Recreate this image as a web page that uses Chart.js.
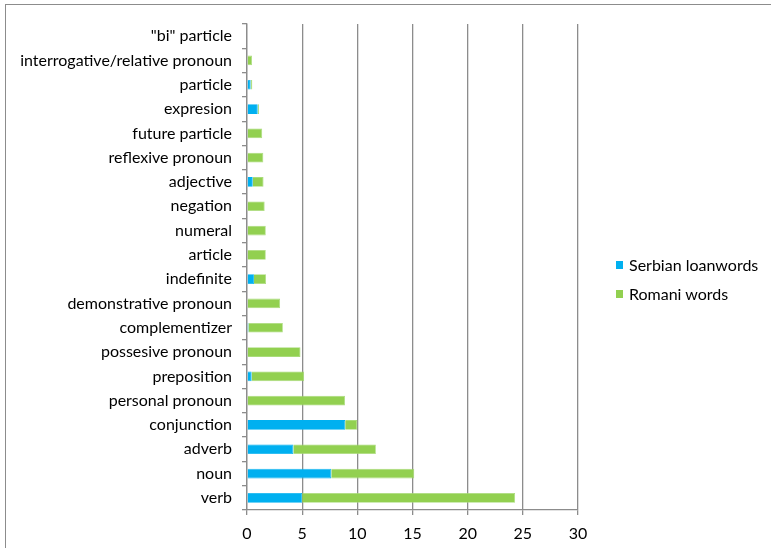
<!DOCTYPE html>
<html>
<head>
<meta charset="utf-8">
<script src="https://cdn.jsdelivr.net/npm/chart.js@4"></script>
<style>
  body { margin: 0; background: #fff; overflow: hidden; }
  #wrap { position: relative; width: 771px; height: 548px; overflow: hidden; }
  #frame { position: absolute; left: 5px; top: 4px; width: 800px; height: 600px; border-left: 1px solid #8c8c8c; border-top: 1px solid #8c8c8c; }
  #legende { position: absolute; left: 616px; top: 250px; font: 16px Lato, sans-serif; color: #000; }
  #legende div { height: 29px; display: flex; align-items: center; }
  #legende span.box { display: inline-block; width: 7px; height: 8px; margin-right: 6px; }
</style>
</head>
<body>
<div id="wrap">
  <canvas id="chart" width="771" height="548"></canvas>
  <div id="frame"></div>
  <div id="legende"></div>
</div>
<script>
const kategorien = ['"bi" particle', "interrogative/relative pronoun", "particle", "expresion", "future particle",
  "reflexive pronoun", "adjective", "negation", "numeral", "article", "indefinite", "demonstrative pronoun",
  "complementizer", "possesive pronoun", "preposition", "personal pronoun", "conjunction", "adverb", "noun", "verb"];
const serbisch = [0, 0, 0.33, 0.97, 0, 0, 0.52, 0, 0, 0, 0.63, 0, 0.13, 0, 0.42, 0, 8.9, 4.2, 7.64, 5.0];
const romani   = [0, 0.45, 0.15, 0.13, 1.38, 1.48, 0.98, 1.6, 1.7, 1.7, 1.09, 3.0, 3.12, 4.85, 4.76, 8.88, 1.1, 7.48, 7.52, 19.3];
const xTicks = [0, 5, 10, 15, 20, 25, 30];

const serien = [
  { label: "Serbian loanwords", data: serbisch, farbe: "#00b0f0", rand: "#00b0f0" },
  { label: "Romani words", data: romani, farbe: "#92d050", rand: "#a9dc7a" }
];

const leg = document.getElementById("legende");
serien.forEach(s => {
  const d = document.createElement("div");
  d.innerHTML = `<span class="box" style="background:${s.farbe}"></span>${s.label}`;
  leg.appendChild(d);
});

Chart.defaults.font.family = "Lato, sans-serif";
Chart.defaults.color = "#000";

new Chart(document.getElementById("chart"), {
  type: "bar",
  data: {
    labels: kategorien,
    datasets: serien.map(s => ({
      label: s.label,
      data: s.data,
      backgroundColor: s.farbe,
      borderColor: s.rand,
      borderWidth: 0.8,
      barPercentage: 0.4,
      categoryPercentage: 1
    }))
  },
  options: {
    indexAxis: "y",
    responsive: false,
    animation: false,
    layout: { padding: { top: 24, right: 193, left: 0, bottom: 0 } },
    plugins: { legend: { display: false }, tooltip: { enabled: false } },
    scales: {
      x: {
        stacked: true,
        min: 0, max: 30,
        afterBuildTicks: ax => { ax.ticks = xTicks.map(v => ({ value: v })); },
        afterFit: ax => { ax.height = 38; },
        grid: { color: "#8c8c8c", lineWidth: 1.3, tickLength: 5, drawTicks: true },
        border: { color: "#8c8c8c", width: 1.3 },
        ticks: { font: { size: 16 }, padding: 9 }
      },
      y: {
        stacked: true,
        afterFit: ax => { ax.width = 247; },
        grid: { drawOnChartArea: false, color: "#8c8c8c", lineWidth: 1.3, tickLength: 5, offset: true },
        border: { color: "#8c8c8c", width: 1.3 },
        ticks: { font: { size: 16 }, padding: 10, autoSkip: false }
      }
    }
  }
});
</script>
</body>
</html>
